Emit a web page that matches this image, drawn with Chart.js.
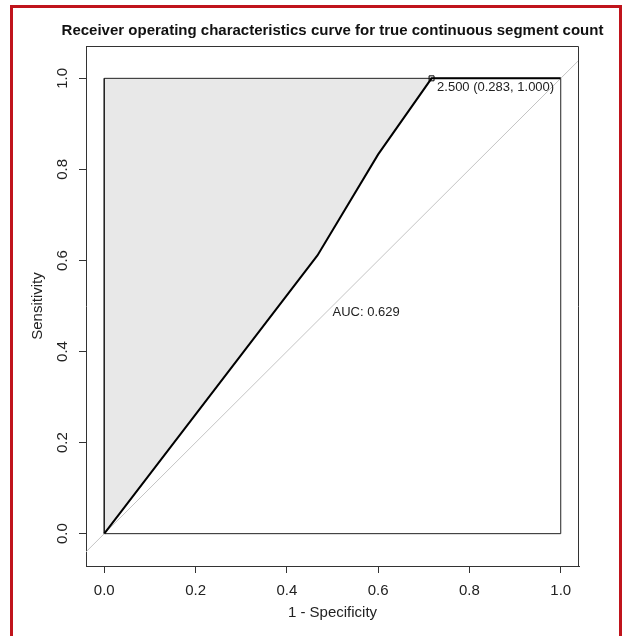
<!DOCTYPE html>
<html><head><meta charset="utf-8">
<script src="https://cdn.jsdelivr.net/npm/chart.js@4.4.0/dist/chart.umd.min.js"></script>
<style>
html,body{margin:0;padding:0;background:#fff;overflow:hidden;}
#wrap{position:relative;width:623px;height:636px;overflow:hidden;background:#fff;}
#frame{position:absolute;left:10px;top:5px;width:606px;height:700px;border:3px solid #c0141c;pointer-events:none;}
canvas{position:absolute;left:0;top:0;}
</style></head><body>
<div id="wrap"><canvas id="c" width="623" height="636"></canvas><div id="frame"></div></div>
<script>
// ---- data ----
const rocFpr = [0, 0.467, 0.600, 0.717, 1.000];   // 1 - Specificity
const rocTpr = [0, 0.611, 0.833, 1.000, 1.000];   // Sensitivity
const xTicks = [0, 0.2, 0.4, 0.6, 0.8, 1.0];
const yTicks = [0, 0.2, 0.4, 0.6, 0.8, 1.0];
const bestThreshold = 2.5;
const bestSpec = 0.283;
const bestSens = 1.000;
const aucValue = 0.629;
const xRange = [-0.04, 1.04];
const yRange = [-0.071, 1.071];
const titleText = 'Receiver operating characteristics curve for true continuous segment count';
const xLabel = '1 - Specificity';
const yLabel = 'Sensitivity';

Chart.defaults.font.family = "'Liberation Sans', Arial, sans-serif";
Chart.defaults.color = '#1a1a1a';

const rocPts = rocFpr.map((x, i) => ({x, y: rocTpr[i]}));
// region above/left of the curve, inside the unit square
const upperIdx = rocTpr.findIndex(v => v >= 1);
const shadePts = rocPts.slice(0, upperIdx + 1).concat([{x: 0, y: 1}]);
const boxPts = [{x:0,y:0},{x:1,y:0},{x:1,y:1},{x:0,y:1},{x:0,y:0}];
const diagPts = [{x: xRange[0], y: xRange[0]}, {x: xRange[1], y: xRange[1]}];
const bestPt = [{x: 1 - bestSpec, y: bestSens}];

const axisColor = '#333';

const labelsPlugin = {
  id: 'rocLabels',
  afterDatasetsDraw(chart) {
    const {ctx, scales: {x, y}} = chart;
    ctx.save();
    ctx.fillStyle = '#222';
    ctx.font = "13px 'Liberation Sans', Arial, sans-serif";
    const tx = x.getPixelForValue(1 - bestSpec);
    const ty = y.getPixelForValue(bestSens);
    ctx.textAlign = 'left';
    ctx.textBaseline = 'middle';
    const thrLabel = bestThreshold.toFixed(3) + ' (' + bestSpec.toFixed(3) + ', ' + bestSens.toFixed(3) + ')';
    ctx.fillText(thrLabel, tx + 5.5, ty + 9.5);
    ctx.textBaseline = 'top';
    ctx.fillText('AUC: ' + aucValue.toFixed(3), x.getPixelForValue(0.5), y.getPixelForValue(0.5));
    ctx.restore();
  },
  afterDraw(chart) {
    const {ctx, chartArea: a} = chart;
    ctx.save();
    ctx.strokeStyle = axisColor;
    ctx.lineWidth = 1;
    ctx.beginPath();
    ctx.moveTo(Math.round(a.left) + 0.5, Math.round(a.top) + 0.5);
    ctx.lineTo(Math.round(a.right) - 0.5, Math.round(a.top) + 0.5);
    ctx.lineTo(Math.round(a.right) - 0.5, Math.round(a.bottom));
    ctx.stroke();
    // main title, centred over the plot region
    ctx.fillStyle = '#111';
    ctx.font = "bold 15px 'Liberation Sans', Arial, sans-serif";
    ctx.textAlign = 'center';
    ctx.textBaseline = 'middle';
    ctx.fillText(titleText, (a.left + a.right) / 2, 31);
    ctx.restore();
  }
};

new Chart(document.getElementById('c'), {
  type: 'scatter',
  data: {
    datasets: [
      {data: bestPt, showLine: false, pointStyle: 'rect', pointRadius: 3.5, pointBorderWidth: 1,
       pointBorderColor: '#000', pointBackgroundColor: 'rgba(0,0,0,0)', order: 1},
      {data: rocPts, showLine: true, borderColor: '#000', borderWidth: 2, pointRadius: 0, tension: 0, order: 2},
      {data: diagPts, showLine: true, borderColor: '#c4c4c4', borderWidth: 1, pointRadius: 0, order: 3},
      {data: boxPts, showLine: true, borderColor: '#222', borderWidth: 1, pointRadius: 0, order: 4},
      {data: shadePts, showLine: true, borderWidth: 0, borderColor: 'rgba(0,0,0,0)', backgroundColor: '#e8e8e8',
       fill: 'shape', pointRadius: 0, order: 5}
    ]
  },
  options: {
    responsive: false,
    animation: false,
    devicePixelRatio: 1,
    layout: {padding: {left: 0, right: 44, top: 46, bottom: 0}},
    plugins: {
      legend: {display: false},
      tooltip: {enabled: false},
      title: {display: false}
    },
    scales: {
      x: {
        type: 'linear', position: 'bottom', min: xRange[0], max: xRange[1],
        afterBuildTicks: s => { s.ticks = xTicks.map(v => ({value: v})); },
        afterFit: s => { s.height = 70; },
        grid: {display: true, drawOnChartArea: false, drawTicks: true, tickLength: 7, tickColor: axisColor, color: axisColor},
        border: {display: true, color: axisColor, width: 1},
        ticks: {font: {size: 15}, color: '#222', padding: 9, maxRotation: 0, autoSkip: false,
                callback: v => Number(v).toFixed(1)},
        title: {display: true, text: xLabel, font: {size: 15}, color: '#222', padding: {top: 0, bottom: 14}}
      },
      y: {
        type: 'linear', position: 'left', min: yRange[0], max: yRange[1],
        afterBuildTicks: s => { s.ticks = yTicks.map(v => ({value: v})); },
        afterFit: s => { s.width = 86; },
        grid: {display: true, drawOnChartArea: false, drawTicks: true, tickLength: 7, tickColor: axisColor, color: axisColor},
        border: {display: true, color: axisColor, width: 1},
        ticks: {font: {size: 15}, color: '#222', padding: 6, minRotation: 90, maxRotation: 90, crossAlign: 'center',
                autoSkip: false, callback: v => Number(v).toFixed(1)},
        title: {display: true, text: yLabel, font: {size: 15}, color: '#222', padding: {top: 29, bottom: 0}}
      }
    }
  },
  plugins: [labelsPlugin]
});
</script>
</body></html>
